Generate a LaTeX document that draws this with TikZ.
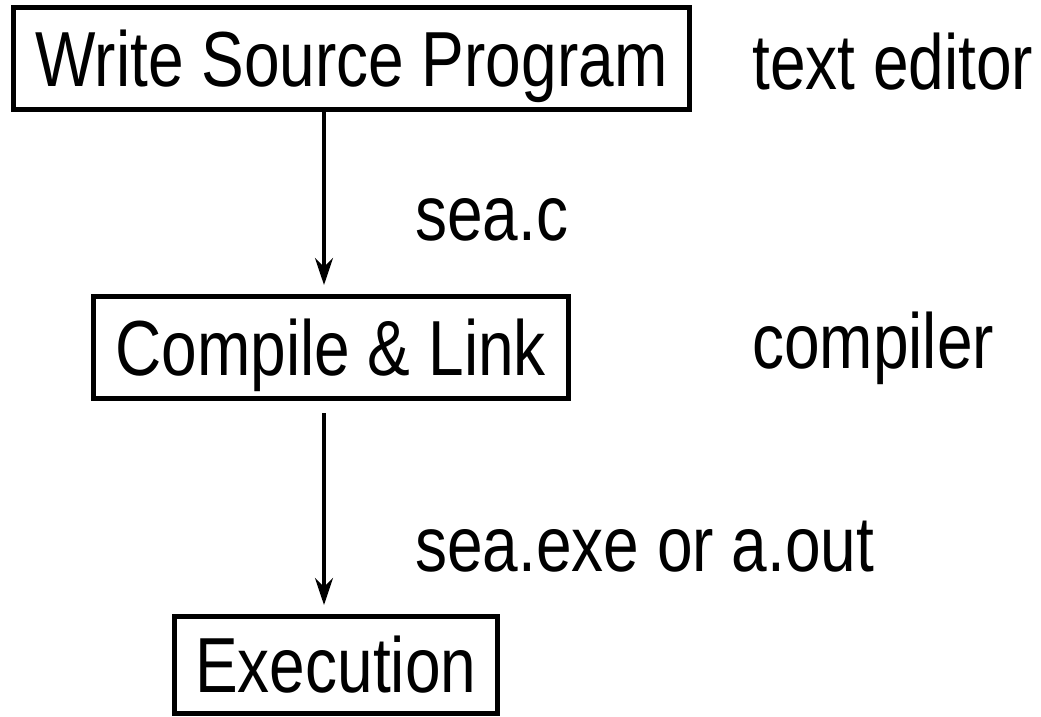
\documentclass[tikz,border=0pt]{standalone}
\usepackage{fontspec}
\setmainfont{Liberation Sans}
\usetikzlibrary{arrows.meta}
\newcommand{\talltext}[1]{\scalebox{1}[1.22]{#1}}
\begin{document}
\begin{tikzpicture}[x=1pt,y=1pt,
  font=\fontsize{64}{72}\selectfont,
  stepbox/.style={draw,line width=5pt,inner sep=0pt,outer sep=0pt,align=center,text depth=0pt},
  flow/.style={line width=3.5pt,-{Stealth[length=27pt,width=18pt,inset=9pt]}},
  lbl/.style={anchor=base west,inner sep=0pt}]
\useasboundingbox (0,0) rectangle (1041,-716);
\node[stepbox,minimum width=676pt,minimum height=102.5pt] (write) at (351.5,-58.25) {\talltext{Write Source Program}};
\node[stepbox,minimum width=474.5pt,minimum height=102pt] (compile) at (330.75,-347) {\talltext{Compile \& Link}};
\node[stepbox,minimum width=323.5pt,minimum height=97pt] (exec) at (335.75,-664.5) {\talltext{Execution}};
\node[lbl] (editor) at (752,-89) {\talltext{text editor}};
\node[lbl] (seac) at (415,-240) {\talltext{sea.c}};
\node[lbl] (comp) at (752,-368) {\talltext{compiler}};
\node[lbl] (seaexe) at (415,-571) {\talltext{sea.exe or a.out}};
\draw[flow] ([xshift=-27.5pt]write.south) -- ([xshift=-6.75pt,yshift=11pt]compile.north);
\draw[flow] ([xshift=-6.75pt,yshift=-15pt]compile.south) -- ([xshift=-11.75pt,yshift=11pt]exec.north);
\end{tikzpicture}
\end{document}
